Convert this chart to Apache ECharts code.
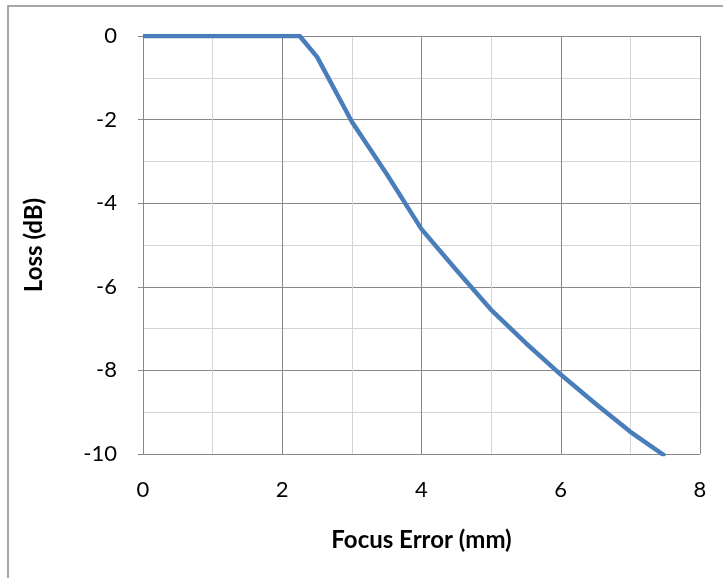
<!DOCTYPE html>
<html><head><meta charset="utf-8">
<script src="https://cdn.jsdelivr.net/npm/echarts@6/dist/echarts.min.js"></script>
<style>html,body{margin:0;padding:0;background:#fff}#c{width:723px;height:578px}</style>
</head><body><div id="c"></div>
<script>
const focusError = [0, 0.5, 1, 1.5, 2, 2.25, 2.5, 3, 3.5, 4, 4.5, 5, 5.5, 6, 6.5, 7, 7.5];
const lossDb = [0, 0, 0, 0, 0, 0, -0.5, -2.05, -3.3, -4.62, -5.6, -6.55, -7.35, -8.1, -8.8, -9.47, -10.05];
const xTitle = 'Focus Error (mm)';
const yTitle = 'Loss (dB)';

const FONT = 'Lato';
const chart = echarts.init(document.getElementById('c'), null, {renderer: 'canvas'});
const major = '#878787', minor = '#d4d4d4';
chart.setOption({
  animation: false,
  graphic: [{
    type: 'rect', shape: {x: 8, y: 6, width: 900, height: 900},
    style: {fill: 'none', stroke: '#8a8a8a', lineWidth: 1.5}, silent: true, z: -1
  }],
  grid: {left: 143, top: 36, right: 23, bottom: 124, containLabel: false},
  xAxis: {
    type: 'value', min: 0, max: 8, interval: 2,
    name: xTitle, nameLocation: 'middle', nameGap: 74,
    nameTextStyle: {fontFamily: FONT, fontWeight: 'bold', fontSize: 24, color: '#000'},
    axisLine: {show: true, lineStyle: {color: major, width: 1}},
    axisTick: {show: true, length: 5, lineStyle: {color: major}},
    axisLabel: {fontFamily: FONT, fontSize: 22, color: '#000', margin: 25},
    splitLine: {show: true, lineStyle: {color: major, width: 1}},
    minorTick: {show: false, splitNumber: 2},
    minorSplitLine: {show: true, lineStyle: {color: minor, width: 1}}
  },
  yAxis: {
    type: 'value', min: -10, max: 0, interval: 2,
    name: yTitle, nameLocation: 'middle', nameGap: 97, nameRotate: 90,
    nameTextStyle: {fontFamily: FONT, fontWeight: 'bold', fontSize: 24, color: '#000'},
    axisLine: {show: true, lineStyle: {color: major, width: 1}},
    axisTick: {show: true, length: 5, lineStyle: {color: major}},
    axisLabel: {fontFamily: FONT, fontSize: 22, color: '#000', margin: 26},
    splitLine: {show: true, lineStyle: {color: major, width: 1}},
    minorTick: {show: false, splitNumber: 2},
    minorSplitLine: {show: true, lineStyle: {color: minor, width: 1}}
  },
  series: [{
    type: 'line',
    data: focusError.map((x, i) => [x, lossDb[i]]),
    showSymbol: false, symbol: 'none',
    clip: true,
    lineStyle: {color: '#4a7ebb', width: 4.5, join: 'round'}
  }]
});
</script></body></html>
